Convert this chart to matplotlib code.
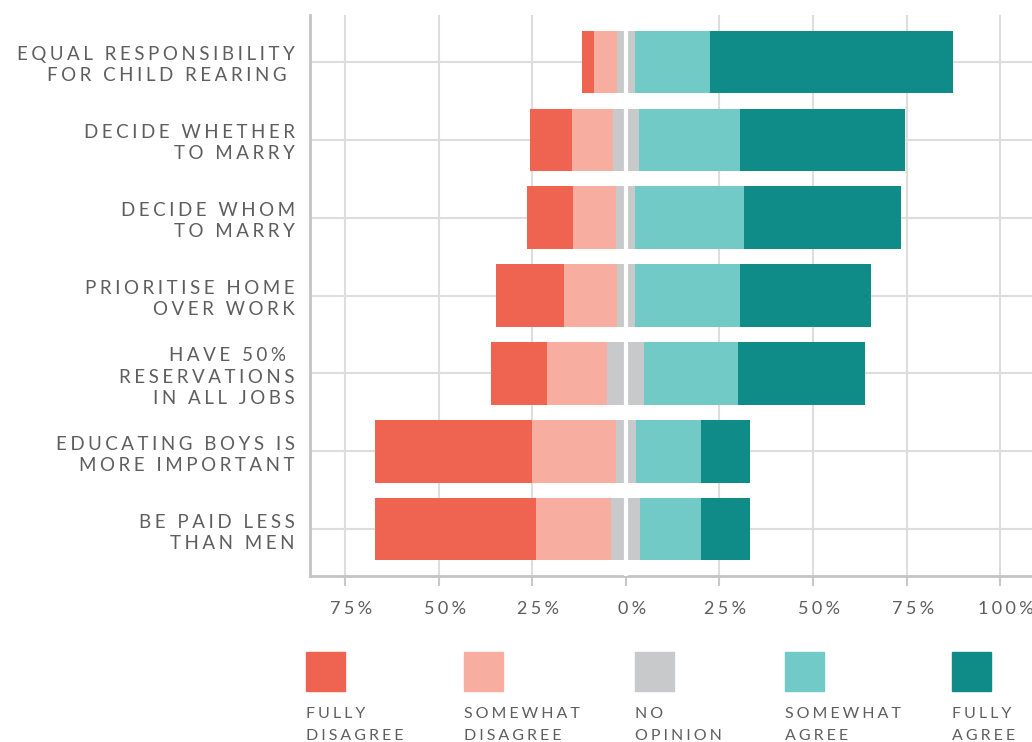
import matplotlib.pyplot as plt
from matplotlib.patches import Rectangle
from matplotlib.transforms import ScaledTranslation

# survey statements, top to bottom
statements = [
    "EQUAL RESPONSIBILITY\nFOR CHILD REARING ",
    "DECIDE WHETHER\nTO MARRY",
    "DECIDE WHOM\nTO MARRY",
    "PRIORITISE HOME\nOVER WORK",
    "HAVE 50% \nRESERVATIONS\nIN ALL JOBS",
    "EDUCATING BOYS IS\nMORE IMPORTANT",
    "BE PAID LESS\nTHAN MEN",
]

# shares of respondents (%)
fully_disagree = [3.2, 11.2, 12.1, 18.2, 15.0, 42.0, 43.1]
somewhat_disagree = [6.0, 10.9, 11.7, 14.0, 16.1, 22.3, 20.0]
no_opinion = [4.8, 6.8, 5.1, 4.9, 9.9, 5.5, 7.8]
somewhat_agree = [20.0, 27.1, 29.0, 28.0, 25.0, 17.2, 16.1]
fully_agree = [65.1, 44.1, 42.0, 35.0, 34.0, 13.1, 13.1]

tick_values = [-75, -50, -25, 0, 25, 50, 75, 100]
legend_labels = ["FULLY\nDISAGREE", "SOMEWHAT\nDISAGREE", "NO\nOPINION",
                 "SOMEWHAT\nAGREE", "FULLY\nAGREE"]
colors = ["#ee6451", "#f7ada0", "#c8c9cb", "#72cac6", "#0f8c88"]

FONT = ["Lato", "DejaVu Sans"]
TEXT_COLOR = "#5e5e5e"
GRID = "#dddddd"
GAP = "\u2009\u200a"


def spaced(text, gap=GAP):
    """Spread letters out, one line at a time."""
    return "\n".join(gap.join(line) for line in text.split("\n"))


def main():
    fig = plt.figure(figsize=(10.32, 7.42), dpi=100)
    ax = fig.add_axes([310 / 1032, 166 / 742, 722 / 1032, 561 / 742])

    rows = range(len(statements))
    height = 0.8
    for i in rows:
        half = no_opinion[i] / 2
        ax.barh(i, no_opinion[i], left=-half, height=height, color=colors[2], zorder=3)
        ax.barh(i, somewhat_disagree[i], left=-half - somewhat_disagree[i],
                height=height, color=colors[1], zorder=3)
        ax.barh(i, fully_disagree[i],
                left=-half - somewhat_disagree[i] - fully_disagree[i],
                height=height, color=colors[0], zorder=3)
        ax.barh(i, somewhat_agree[i], left=half, height=height, color=colors[3], zorder=3)
        ax.barh(i, fully_agree[i], left=half + somewhat_agree[i],
                height=height, color=colors[4], zorder=3)

    # white split at zero
    ax.axvline(0, color="white", lw=3, zorder=4)

    # grid
    for v in tick_values:
        if v != 0:
            ax.axvline(v, color=GRID, lw=1.5, zorder=1)
    for i in rows:
        ax.axhline(i, color=GRID, lw=1.5, zorder=1)

    ax.set_xlim(-84.4, 108.5)
    ax.set_ylim(len(statements) - 0.4, -0.6)

    ax.set_xticks(tick_values)
    ax.set_xticklabels([spaced(f"{abs(v)}%") for v in tick_values],
                       family=FONT, fontsize=13, color=TEXT_COLOR)
    ax.tick_params(axis="x", length=7, width=1.5, color="#c8c8c8", pad=11)
    shift = ScaledTranslation(6 / 100, 0, fig.dpi_scale_trans)
    for lbl in ax.get_xticklabels():
        lbl.set_transform(lbl.get_transform() + shift)

    ax.set_yticks(list(rows))
    ax.set_yticklabels([spaced(s) for s in statements], family=FONT,
                       fontsize=13.5, color=TEXT_COLOR, linespacing=1.3)
    ax.tick_params(axis="y", length=0, pad=11)

    for side in ["top", "right"]:
        ax.spines[side].set_visible(False)
    for side in ["left", "bottom"]:
        ax.spines[side].set_color("#c4c4c4")
        ax.spines[side].set_linewidth(2)

    # legend, laid out by hand under the axis
    legend_x = [306, 464, 635, 785, 952]
    for x, c, lab in zip(legend_x, colors, legend_labels):
        fig.add_artist(Rectangle((x / 1032, 51 / 742), 39 / 1032, 39 / 742,
                                 transform=fig.transFigure, color=c))
        fig.text(x / 1032, 17 / 742, spaced(lab), family=FONT, fontsize=11.5,
                 color=TEXT_COLOR, ha="left", va="center", linespacing=1.75)

    fig.savefig("out.png", dpi=100)


if __name__ == "__main__":
    main()
